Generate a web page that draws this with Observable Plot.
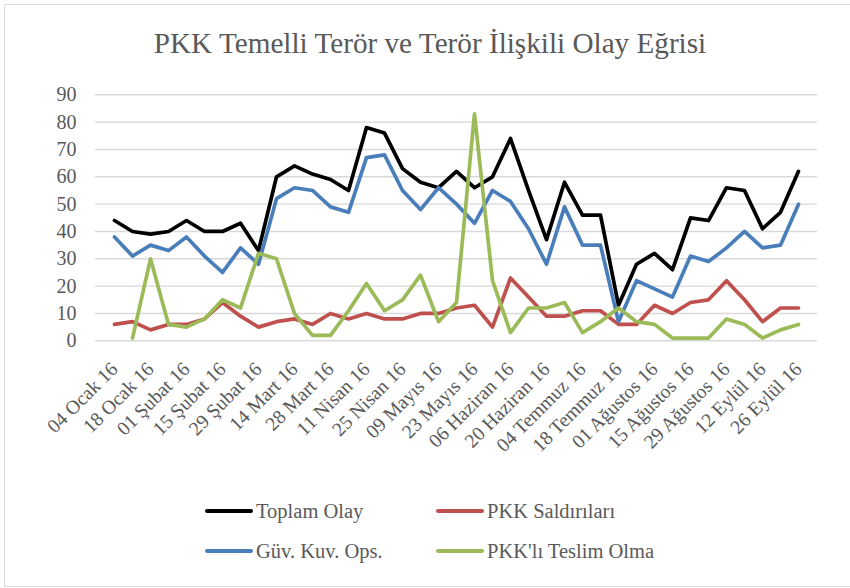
<!DOCTYPE html>
<html><head><meta charset="utf-8">
<script src="https://cdn.jsdelivr.net/npm/d3@7"></script>
<script src="https://cdn.jsdelivr.net/npm/@observablehq/plot@0.6"></script>
<style>
body{margin:0;background:#fff;}
#wrap{position:relative;width:850px;height:588px;overflow:hidden;font-family:"Liberation Serif",serif;color:#595959;background:#fff;}
#frame{position:absolute;left:4px;top:4px;width:870px;height:583px;border:1.5px solid #d9d9d9;box-sizing:border-box;}
#title{position:absolute;left:0;top:28px;width:860px;text-align:center;font-size:29.2px;line-height:30px;white-space:nowrap;}
#chart{position:absolute;left:0;top:72px;}
.leg{position:absolute;font-size:20.5px;line-height:22px;white-space:nowrap;display:flex;align-items:center;}
.leg span.sw{display:inline-block;width:48px;height:4px;border-radius:2px;margin-right:3px;}
</style></head>
<body>
<div id="wrap">
  <div id="frame"></div>
  <div id="title">PKK Temelli Terör ve Terör İlişkili Olay Eğrisi</div>
  <div id="chart"></div>
  <div id="legend"></div>
</div>
<script>
const dates = ["04 Ocak 16","11 Ocak 16","18 Ocak 16","25 Ocak 16","01 Şubat 16","08 Şubat 16","15 Şubat 16","22 Şubat 16","29 Şubat 16","07 Mart 16","14 Mart 16","21 Mart 16","28 Mart 16","04 Nisan 16","11 Nisan 16","18 Nisan 16","25 Nisan 16","02 Mayıs 16","09 Mayıs 16","16 Mayıs 16","23 Mayıs 16","30 Mayıs 16","06 Haziran 16","13 Haziran 16","20 Haziran 16","27 Haziran 16","04 Temmuz 16","11 Temmuz 16","18 Temmuz 16","25 Temmuz 16","01 Ağustos 16","08 Ağustos 16","15 Ağustos 16","22 Ağustos 16","29 Ağustos 16","05 Eylül 16","12 Eylül 16","19 Eylül 16","26 Eylül 16"];
const toplamOlay = [44,40,39,40,44,40,40,43,33,60,64,61,59,55,78,76,63,58,56,62,56,60,74,55,37,58,46,46,13,28,32,26,45,44,56,55,41,47,62];
const pkkSaldirilari = [6,7,4,6,6,8,14,9,5,7,8,6,10,8,10,8,8,10,10,12,13,5,23,16,9,9,11,11,6,6,13,10,14,15,22,15,7,12,12];
const guvKuvOps = [38,31,35,33,38,31,25,34,28,52,56,55,49,47,67,68,55,48,56,50,43,55,51,41,28,49,35,35,7,22,19,16,31,29,34,40,34,35,50];
const teslimOlma = [null,1,30,6,5,8,15,12,32,30,10,2,2,11,21,11,15,24,7,14,83,22,3,12,12,14,3,7,12,7,6,1,1,1,8,6,1,4,6];
const seriesNames = ["Toplam Olay","PKK Saldırıları","Güv. Kuv. Ops.","PKK'lı Teslim Olma"];
const seriesColors = ["#000000","#C0504D","#4A7EBB","#9BBB59"];
const yTicks = [0,10,20,30,40,50,60,70,80,90];
const xTickLabels = dates.filter((d,i)=>i%2===0);

const seriesValues = [toplamOlay,pkkSaldirilari,guvKuvOps,teslimOlma];
const table = [];
seriesNames.forEach((s,k)=>{
  seriesValues[k].forEach((v,i)=>{ table.push({date:dates[i], value:v, series:s}); });
});

const W = 850, H = 410, top0 = 72;
const plot = Plot.plot({
  width: W, height: H,
  marginLeft: 95, marginRight: 33,
  marginTop: 94.3 - top0, marginBottom: H - (340.3 - top0),
  style: {fontFamily: "'Liberation Serif', serif", color: "#595959", background: "transparent", overflow: "visible"},
  x: {type: "point", domain: dates, padding: 0.5, align: 0.5},
  y: {domain: [0, 90]},
  color: {domain: seriesNames, range: seriesColors},
  marks: [
    Plot.gridY(yTicks, {stroke: "#d9d9d9", strokeOpacity: 1, strokeWidth: 1.4}),
    Plot.axisY(yTicks, {tickSize: 0, tickPadding: 19, fontSize: 20, label: null}),
    Plot.axisX(xTickLabels, {tickSize: 0, tickPadding: 25, tickRotate: -45, fontSize: 19.6, label: null}),
    Plot.line(table, {x: "date", y: "value", z: "series", stroke: "series", strokeWidth: 3.7, strokeLinejoin: "round", strokeLinecap: "round"})
  ]
});
document.getElementById("chart").appendChild(plot);

const legPos = [[205,511],[436,511],[205,551],[436,551]];
const legend = document.getElementById("legend");
seriesNames.forEach((s,k)=>{
  const d = document.createElement("div");
  d.className = "leg";
  d.style.left = legPos[k][0] + "px";
  d.style.top = (legPos[k][1] - 11) + "px";
  d.innerHTML = `<span class="sw" style="background:${seriesColors[k]}"></span><span>${s}</span>`;
  legend.appendChild(d);
});
</script>
</body></html>
